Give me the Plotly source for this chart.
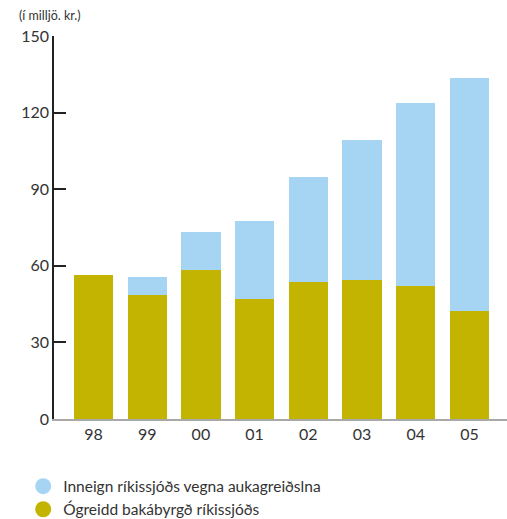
import plotly.graph_objects as go

# Years and amounts (millions of krónur)
years = ["98", "99", "00", "01", "02", "03", "04", "05"]
ogreidd = [56.5, 48.5, 58.2, 47.0, 53.8, 54.5, 52.1, 42.3]      # Ógreidd bakábyrgð ríkissjóðs
inneign = [0.0, 7.1, 15.0, 30.5, 41.0, 54.8, 71.6, 91.2]         # Inneign ríkissjóðs vegna aukagreiðslna

y_ticks = [0, 30, 60, 90, 120, 150]

olive = "#C2B400"
blue = "#A5D5F2"
font = "Lato"

fig = go.Figure()
fig.add_trace(go.Bar(x=years, y=ogreidd, marker=dict(color=olive, line=dict(width=0)),
                     showlegend=False, name="Ógreidd bakábyrgð ríkissjóðs"))
fig.add_trace(go.Bar(x=years, y=inneign, marker=dict(color=blue, line=dict(width=0)),
                     showlegend=False, name="Inneign ríkissjóðs vegna aukagreiðslna"))

# Round legend markers
fig.add_trace(go.Scatter(x=[None], y=[None], mode="markers",
                         marker=dict(symbol="circle", size=20, color=blue),
                         name="Inneign ríkissjóðs vegna aukagreiðslna"))
fig.add_trace(go.Scatter(x=[None], y=[None], mode="markers",
                         marker=dict(symbol="circle", size=20, color=olive),
                         name="Ógreidd bakábyrgð ríkissjóðs"))

fig.update_layout(
    width=507, height=519,
    barmode="stack", bargap=0.27,
    plot_bgcolor="white", paper_bgcolor="white",
    margin=dict(l=54, r=0, t=36, b=100, autoexpand=False),
    font=dict(family=font, color="#333333", size=15),
    xaxis=dict(
        type="category", range=[-0.7356, 7.70],
        showline=True, linecolor="#A8A8A8", linewidth=1.5,
        ticks="", showgrid=False, zeroline=False,
        tickfont=dict(size=16, color="#333333"),
    ),
    yaxis=dict(
        range=[0, 150], tickvals=y_ticks,
        showline=True, linecolor="#222222", linewidth=1.5,
        ticks="inside", ticklen=12, tickwidth=1.5, tickcolor="#222222",
        showgrid=False, zeroline=False,
        tickfont=dict(size=16, color="#333333"),
    ),
    legend=dict(
        x=-0.068, y=-0.132, xanchor="left", yanchor="top",
        orientation="v", traceorder="normal",
        font=dict(size=15.5, color="#333333"),
        itemsizing="trace", tracegroupgap=0,
        bgcolor="rgba(0,0,0,0)",
    ),
    annotations=[dict(
        text="(í milljö. kr.)", xref="paper", yref="paper",
        x=-0.081, y=1.0, xanchor="left", yanchor="bottom", yshift=11,
        showarrow=False, font=dict(size=12.5, color="#333333"),
    )],
)

fig.write_html("out.html")
